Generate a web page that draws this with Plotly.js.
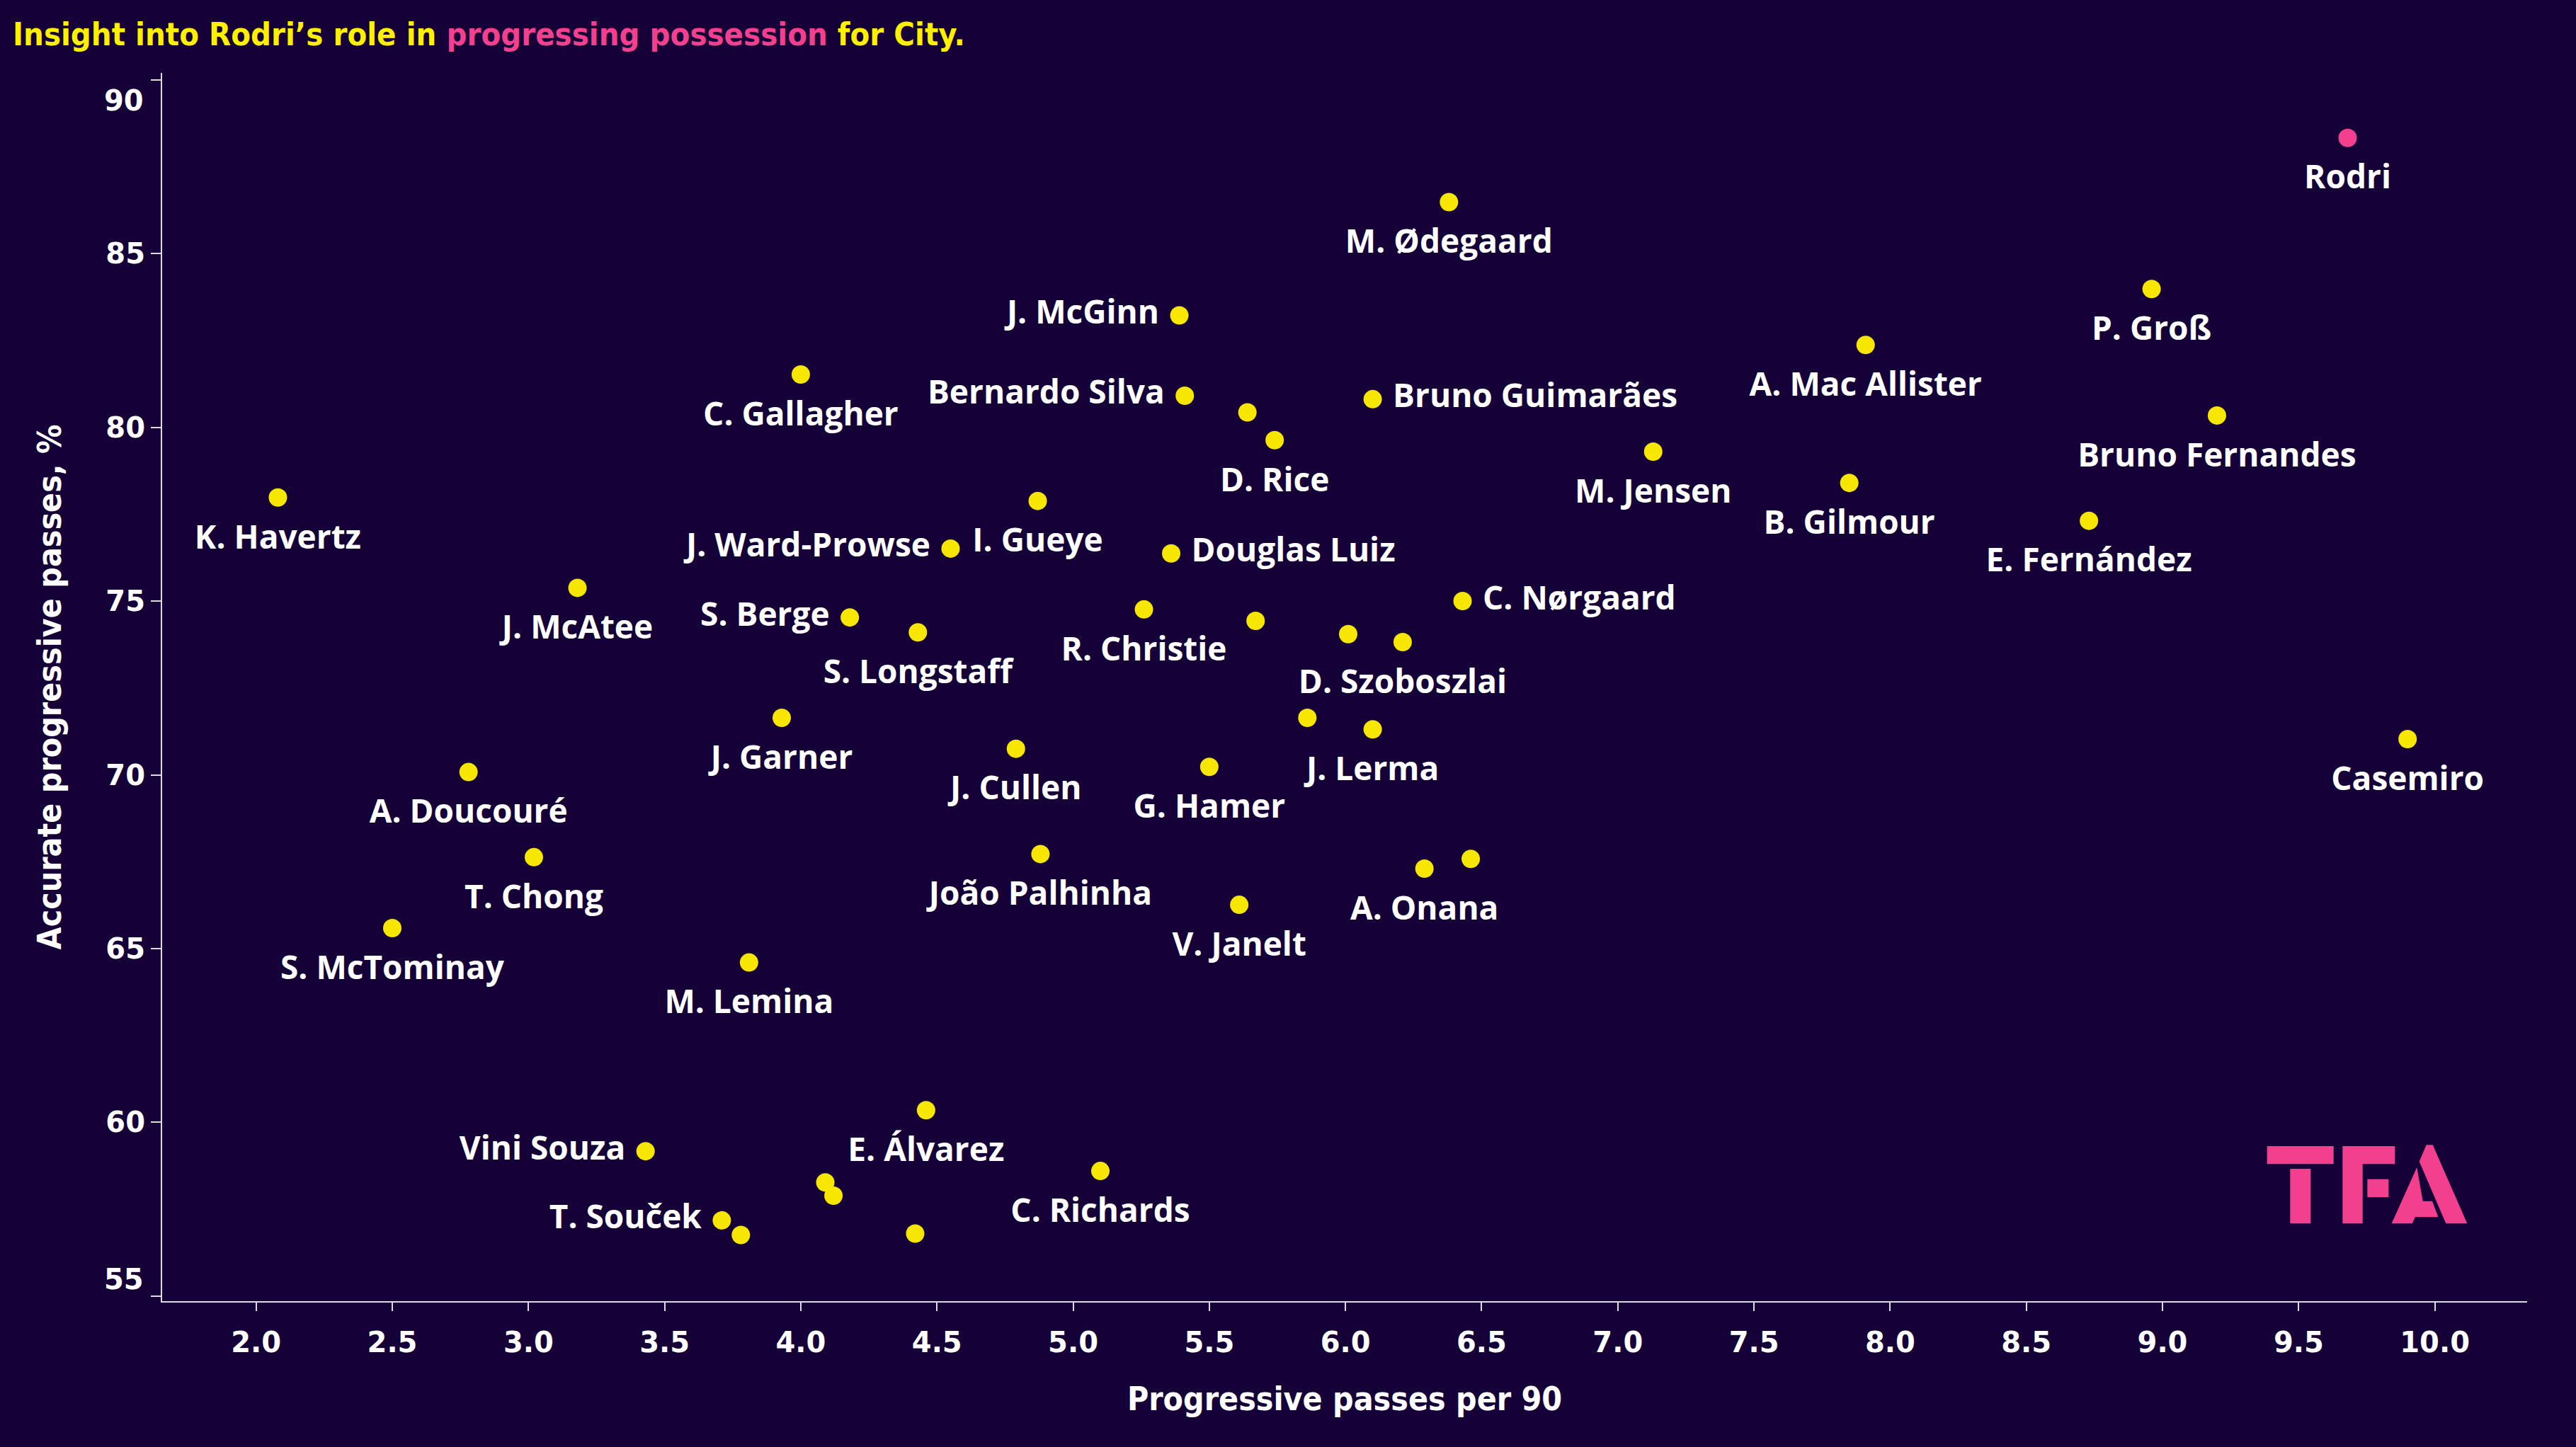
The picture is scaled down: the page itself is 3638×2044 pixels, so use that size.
<!DOCTYPE html>
<html>
<head>
<meta charset="utf-8">
<script src="https://cdn.plot.ly/plotly-3.0.1.min.js"></script>
<style>
  html, body { margin: 0; padding: 0; background: #160038; }
  #chart { width: 3638px; height: 2044px; }
</style>
</head>
<body>
<div id="chart"></div>
<script>
// ---- Data ----
const players = [
  "Rodri", "M. Ødegaard", "P. Groß", "J. McGinn", "A. Mac Allister", "C. Gallagher",
  "Bernardo Silva", "Bruno Guimarães", "", "Bruno Fernandes", "D. Rice", "M. Jensen",
  "B. Gilmour", "K. Havertz", "I. Gueye", "E. Fernández", "J. Ward-Prowse", "Douglas Luiz",
  "J. McAtee", "C. Nørgaard", "R. Christie", "S. Berge", "", "S. Longstaff",
  "", "D. Szoboszlai", "J. Garner", "", "J. Lerma", "Casemiro",
  "J. Cullen", "G. Hamer", "A. Doucouré", "João Palhinha", "T. Chong", "",
  "A. Onana", "V. Janelt", "S. McTominay", "M. Lemina", "E. Álvarez", "Vini Souza",
  "C. Richards", "", "", "T. Souček", "", ""
];
const progressivePassesPer90 = [
  9.68, 6.38, 8.96, 5.39, 7.91, 4.00,
  5.41, 6.10, 5.64, 9.20, 5.74, 7.13,
  7.85, 2.08, 4.87, 8.73, 4.55, 5.36,
  3.18, 6.43, 5.26, 4.18, 5.67, 4.43,
  6.01, 6.21, 3.93, 5.86, 6.10, 9.90,
  4.79, 5.50, 2.78, 4.88, 3.02, 6.46,
  6.29, 5.61, 2.50, 3.81, 4.46, 3.43,
  5.10, 4.09, 4.12, 3.71, 3.78, 4.42
];
const accurateProgressivePct = [
  88.33, 86.48, 83.98, 83.22, 82.37, 81.52,
  80.91, 80.81, 80.43, 80.34, 79.63, 79.30,
  78.40, 77.98, 77.88, 77.31, 76.51, 76.37,
  75.38, 75.00, 74.76, 74.53, 74.43, 74.10,
  74.05, 73.82, 71.64, 71.64, 71.31, 71.03,
  70.75, 70.23, 70.08, 67.72, 67.63, 67.58,
  67.30, 66.26, 65.59, 64.60, 60.35, 59.17,
  58.60, 58.27, 57.89, 57.18, 56.76, 56.80
];
const highlightPlayer = "Rodri";
const labelsOnLeft = ["J. McGinn", "Bernardo Silva", "J. Ward-Prowse", "S. Berge", "Vini Souza", "T. Souček"];
const labelsOnRight = ["Bruno Guimarães", "Douglas Luiz", "C. Nørgaard"];
const xTickValues = [2.0, 2.5, 3.0, 3.5, 4.0, 4.5, 5.0, 5.5, 6.0, 6.5, 7.0, 7.5, 8.0, 8.5, 9.0, 9.5, 10.0];
const yTickValues = [55, 60, 65, 70, 75, 80, 85, 90];
const titleParts = ["Insight into Rodri’s role in ", "progressing possession", " for City."];
const xAxisTitle = "Progressive passes per 90";
const yAxisTitle = "Accurate progressive passes, %";

// ---- Styles ----
const BG = "#160038";
const YELLOW = "#f7e600";
const PINK = "#f2408f";
const TITLE_YELLOW = "#ffef00";
const AXIS = "#dcdcdc";
const W = 3638, H = 2044;
const M = { l: 229, r: 69, t: 103, b: 206 };
const condensed = "'DejaVu Sans Condensed', 'DejaVu Sans', sans-serif";
const labelFont = "'Open Sans', 'Noto Sans', sans-serif";
const tickFont = "'DejaVu Sans', Verdana, sans-serif";
const TICK_SIZE = 40;

const textPositions = players.map(p =>
  labelsOnLeft.includes(p) ? "middle left" : (labelsOnRight.includes(p) ? "middle right" : "bottom center"));
const markerColors = players.map(p => p === highlightPlayer ? PINK : YELLOW);
// invisible spacer marker sizes that push labels away from the dots
const labelSpacerSizes = textPositions.map(tp => tp === "bottom center" ? 58 : 44);

const dots = {
  type: "scatter",
  mode: "markers",
  x: progressivePassesPer90,
  y: accurateProgressivePct,
  marker: { color: markerColors, size: 26, line: { width: 0 } },
  cliponaxis: false,
  hoverinfo: "skip"
};
const labels = {
  type: "scatter",
  mode: "markers+text",
  x: progressivePassesPer90,
  y: accurateProgressivePct,
  text: players,
  textposition: textPositions,
  textfont: { family: labelFont, size: 46, color: "#ffffff", weight: 700 },
  marker: { color: "rgba(0,0,0,0)", size: labelSpacerSizes, line: { width: 0 } },
  cliponaxis: false,
  hoverinfo: "skip"
};

// ---- TFA logo (decoration), pixel polygons converted to paper coords ----
const plotW = W - M.l - M.r, plotH = H - M.t - M.b;
function px2paper(pt) {
  const gx = 3150 + pt[0] / 3, gy = 1580 + pt[1] / 3;
  return [(gx - M.l) / plotW, (H - M.b - gy) / plotH];
}
const logoPolys = [
  [[155,117],[437,117],[437,193],[155,193]],
  [[253,213],[340,213],[340,445],[253,445]],
  [[475,117],[697,117],[697,193],[560,193],[560,445],[475,445]],
  [[580,257],[670,257],[670,333],[580,333]],
  [[830,112],[857,112],[1003,445],[913,445],[800,182]],
  [[683,445],[790,207],[815,350],[855,350],[880,417],[783,417],[770,445]]
];
const shapes = logoPolys.map(poly => {
  const d = poly.map((pt, i) => {
    const q = px2paper(pt);
    return (i === 0 ? "M" : "L") + q[0].toFixed(5) + "," + q[1].toFixed(5);
  }).join(" ") + " Z";
  return { type: "path", xref: "paper", yref: "paper", path: d,
           fillcolor: PINK, line: { width: 0 }, layer: "above" };
});

// The end labels (90 and 55) sit nudged inward in the reference
const yTopLabelShift = 0.6, yBottomLabelShift = 0.48;
const yMin = Math.min(...yTickValues), yMax = Math.max(...yTickValues);
const yTickText = yTickValues.map(v => (v === yMin || v === yMax) ? "" : String(v));
const yEdgeAnnotations = [yMax, yMin].map(v => ({
  xref: "paper", yref: "y", x: 0, xanchor: "right", xshift: -25,
  y: v === yMax ? v - yTopLabelShift : v + yBottomLabelShift, yanchor: "middle",
  text: String(v), showarrow: false, borderpad: 0,
  font: { family: tickFont, size: TICK_SIZE, color: "#ffffff", weight: 700 }
}));

const layout = {
  width: W, height: H,
  paper_bgcolor: BG, plot_bgcolor: BG,
  margin: M,
  showlegend: false,
  title: {
    text: titleParts[0] + "<span style='color:" + PINK + "'>" + titleParts[1] + "</span>" + titleParts[2],
    font: { family: condensed, size: 45, color: TITLE_YELLOW, weight: 700 },
    xref: "container", yref: "container",
    x: 18 / W, xanchor: "left",
    y: 1 - 48 / H, yanchor: "middle"
  },
  xaxis: {
    range: [1.655, 10.339],
    tickvals: xTickValues,
    tickformat: ".1f",
    showgrid: false, zeroline: false,
    showline: true, linecolor: AXIS, linewidth: 2,
    ticks: "outside", ticklen: 12, tickwidth: 2, tickcolor: AXIS,
    ticklabelstandoff: 10,
    tickfont: { family: tickFont, size: TICK_SIZE, color: "#ffffff", weight: 700 },
    title: { text: xAxisTitle, standoff: 42,
             font: { family: condensed, size: 46, color: "#ffffff", weight: 700 } }
  },
  yaxis: {
    range: [54.854, 90.198],
    tickvals: yTickValues,
    ticktext: yTickText,
    showgrid: false, zeroline: false,
    showline: true, linecolor: AXIS, linewidth: 2,
    ticks: "outside", ticklen: 14, tickwidth: 2, tickcolor: AXIS,
    tickfont: { family: tickFont, size: TICK_SIZE, color: "#ffffff", weight: 700 },
    title: { text: yAxisTitle, standoff: 48,
             font: { family: condensed, size: 46, color: "#ffffff", weight: 700 } }
  },
  annotations: yEdgeAnnotations,
  shapes: shapes
};

Plotly.newPlot("chart", [dots, labels], layout, { staticPlot: true, displayModeBar: false });
</script>
</body>
</html>
